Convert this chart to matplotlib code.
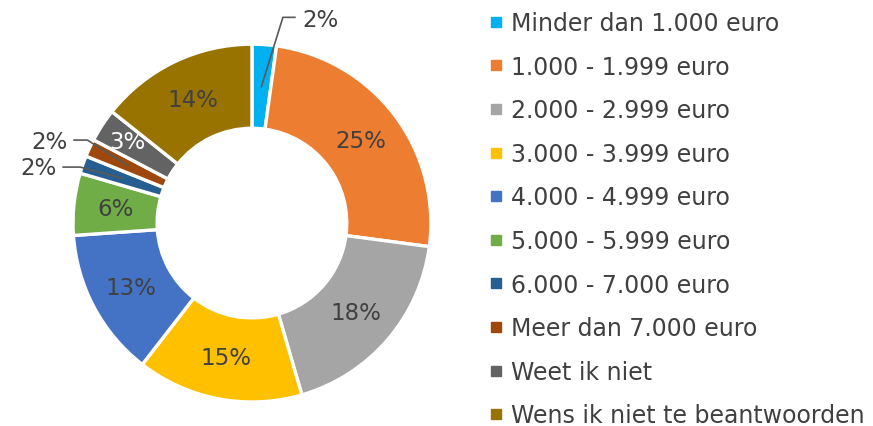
import numpy as np
import matplotlib.pyplot as plt
from matplotlib.lines import Line2D

categories = [
    "Minder dan 1.000 euro",
    "1.000 - 1.999 euro",
    "2.000 - 2.999 euro",
    "3.000 - 3.999 euro",
    "4.000 - 4.999 euro",
    "5.000 - 5.999 euro",
    "6.000 - 7.000 euro",
    "Meer dan 7.000 euro",
    "Weet ik niet",
    "Wens ik niet te beantwoorden",
]
shares = [2.2, 24.9, 18.4, 15.0, 13.4, 5.6, 1.6, 1.6, 3.0, 14.3]
colors = ["#00B0F0", "#ED7D31", "#A5A5A5", "#FFC000", "#4472C4",
          "#70AD47", "#255E91", "#9E480E", "#636363", "#997300"]

plt.rcParams['font.family'] = ['DejaVu Sans']
TXT = "#404040"

fig = plt.figure(figsize=(8.73, 4.27), dpi=100)
ax = fig.add_axes([0.0836, 0.0562, 0.410, 0.838])

width = 0.47
wedges, _ = ax.pie(shares, colors=colors, startangle=90, counterclock=False,
                   wedgeprops=dict(width=width, edgecolor="white", linewidth=2.4))
ax.set_xlim(-1, 1)
ax.set_ylim(-1, 1)
ax.axis("off")

mid_r = 1 - width / 2


def anchor(w, r):
    a = np.deg2rad((w.theta1 + w.theta2) / 2)
    return r * np.cos(a), r * np.sin(a)


# labels inside the ring
for i, (w, v) in enumerate(zip(wedges, shares)):
    if i in (0, 6, 7):
        continue
    r = 0.83 if i == 8 else mid_r
    x, y = anchor(w, r)
    col = "white" if i == 8 else TXT
    ax.text(x, y, f"{round(v):.0f}%", ha="center", va="center",
            fontsize=16.5, color=col)

# small slices with leader lines
lc = "#595959"
x0, y0 = anchor(wedges[0], mid_r)
ax.plot([x0, 0.173, 0.24], [y0, 1.15, 1.15], color=lc, lw=1.2, clip_on=False)
ax.text(0.28, 1.14, f"{round(shares[0])}%", ha="left", va="center",
        fontsize=16.5, color=TXT)

x6, y6 = anchor(wedges[6], mid_r)
ax.plot([-1.055, -0.96, x6], [0.313, 0.313, y6], color=lc, lw=1.2, clip_on=False)
ax.text(-1.09, 0.313, f"{round(shares[6])}%", ha="right", va="center",
        fontsize=16.5, color=TXT)

x7, y7 = anchor(wedges[7], mid_r)
ax.plot([-0.994, -0.92, x7], [0.464, 0.464, y7], color=lc, lw=1.2, clip_on=False)
ax.text(-1.03, 0.455, f"{round(shares[7])}%", ha="right", va="center",
        fontsize=16.5, color=TXT)

handles = [Line2D([], [], marker="s", linestyle="none", markersize=6.5,
                  markerfacecolor=c, markeredgecolor=c) for c in colors]
fig.legend(handles, categories, loc="upper left", bbox_to_anchor=(0.549, 0.994),
           frameon=False, fontsize=17, labelcolor=TXT, handlelength=0.6,
           handletextpad=0.35, labelspacing=0.83, borderaxespad=0.0)

fig.savefig("out.png", dpi=100)
